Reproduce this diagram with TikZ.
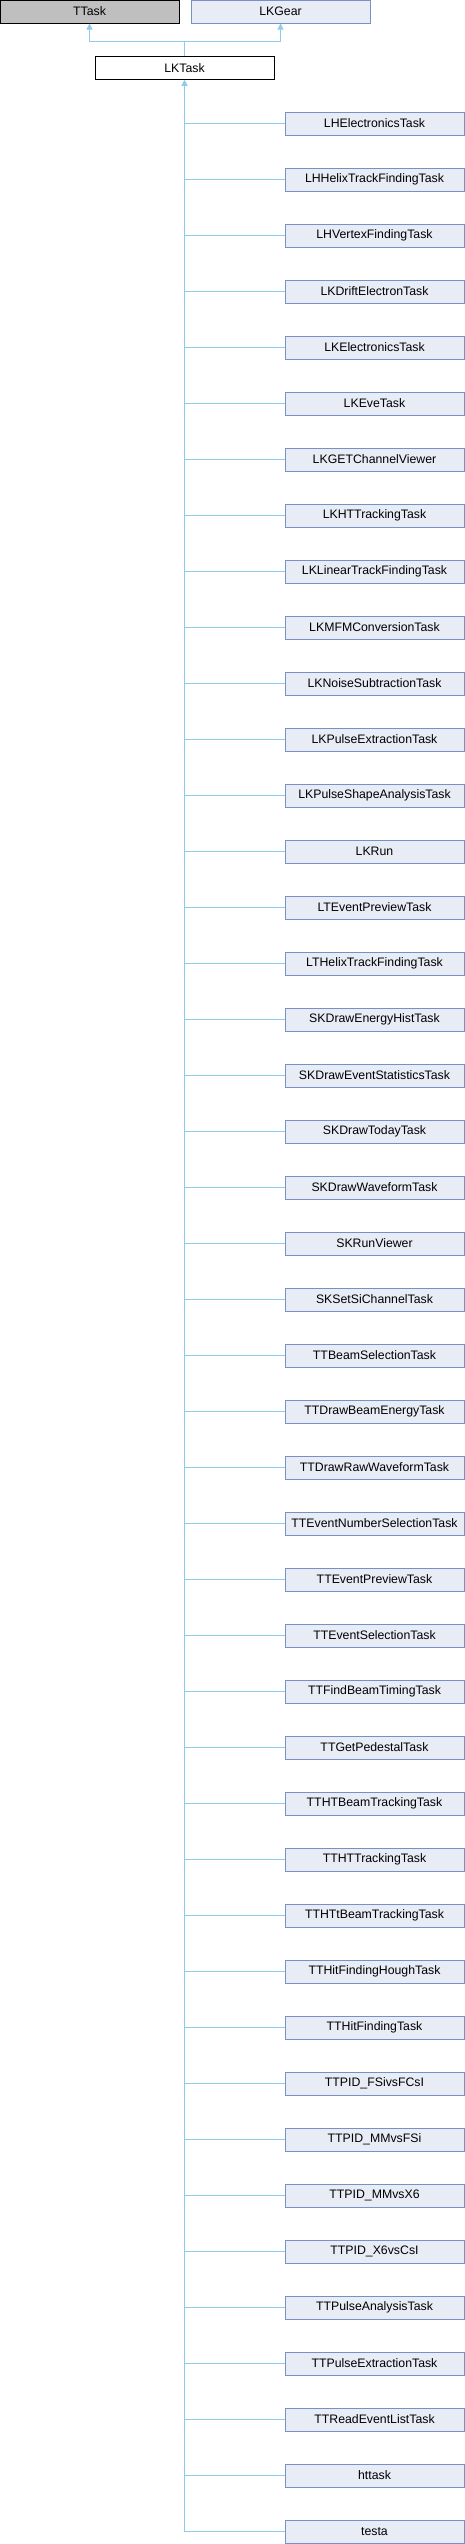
\documentclass[tikz,border=0pt]{standalone}
\usepackage{fontspec}
\setmainfont{Liberation Sans}
\usetikzlibrary{arrows.meta, positioning}
\definecolor{dxblue}{HTML}{E8ECF5}
\definecolor{dxborder}{HTML}{7890C4}
\definecolor{dxgray}{HTML}{BFBFBF}
\definecolor{dxedge}{HTML}{8FCBEA}

\begin{document}
\begin{tikzpicture}[x=1pt, y=-1pt,
      box/.style={draw=dxborder, fill=dxblue, line width=1pt,
                  minimum width=179pt, minimum height=23pt, inner sep=0pt,
                  align=center, font=\fontsize{12.3}{14}\selectfont},
      arr/.style={{Triangle[length=6pt, width=6pt, fill=dxedge]}-, draw=dxedge, line width=1pt},
      edge/.style={draw=dxedge, line width=1pt},
    ]
    \useasboundingbox (0,0) rectangle (465,2544);

    % ── Row 1: base classes ──
    \node[box, draw=black, fill=dxgray] (ttask) at (89.5,11.5) {TTask};
    \node[box, right=11pt of ttask] (lkgear) {LKGear};

    % ── Row 2: LKTask ──
    \node[box, draw=black, fill=white] (lktask) at (184.5,67.75) {LKTask};
    \draw[arr] (ttask.south) |- ++(0,17.5) -| (lktask.north);
    \draw[arr] (lkgear.south) |- ++(0,17.5) -| (lktask.north);

    % ── Derived tasks ──
    \foreach \name [count=\i] in {LHElectronicsTask, LHHelixTrackFindingTask,
        LHVertexFindingTask, LKDriftElectronTask, LKElectronicsTask, LKEveTask,
        LKGETChannelViewer, LKHTTrackingTask, LKLinearTrackFindingTask,
        LKMFMConversionTask, LKNoiseSubtractionTask, LKPulseExtractionTask,
        LKPulseShapeAnalysisTask, LKRun, LTEventPreviewTask,
        LTHelixTrackFindingTask, SKDrawEnergyHistTask, SKDrawEventStatisticsTask,
        SKDrawTodayTask, SKDrawWaveformTask, SKRunViewer, SKSetSiChannelTask,
        TTBeamSelectionTask, TTDrawBeamEnergyTask, TTDrawRawWaveformTask,
        TTEventNumberSelectionTask, TTEventPreviewTask, TTEventSelectionTask,
        TTFindBeamTimingTask, TTGetPedestalTask, TTHTBeamTrackingTask,
        TTHTTrackingTask, TTHTtBeamTrackingTask, TTHitFindingHoughTask,
        TTHitFindingTask, TTPID\_FSivsFCsI, TTPID\_MMvsFSi, TTPID\_MMvsX6,
        TTPID\_X6vsCsI, TTPulseAnalysisTask, TTPulseExtractionTask,
        TTReadEventListTask, httask, testa} {
      \node[box] (c\i) at (374.5,{123.5+56*(\i-1)}) {\name};
      \draw[edge] (c\i.west) -- (c\i.west -| lktask.south);
    }

    % trunk up to LKTask
    \draw[arr] (lktask.south) -- (c44.west -| lktask.south);
  \end{tikzpicture}
\end{document}
